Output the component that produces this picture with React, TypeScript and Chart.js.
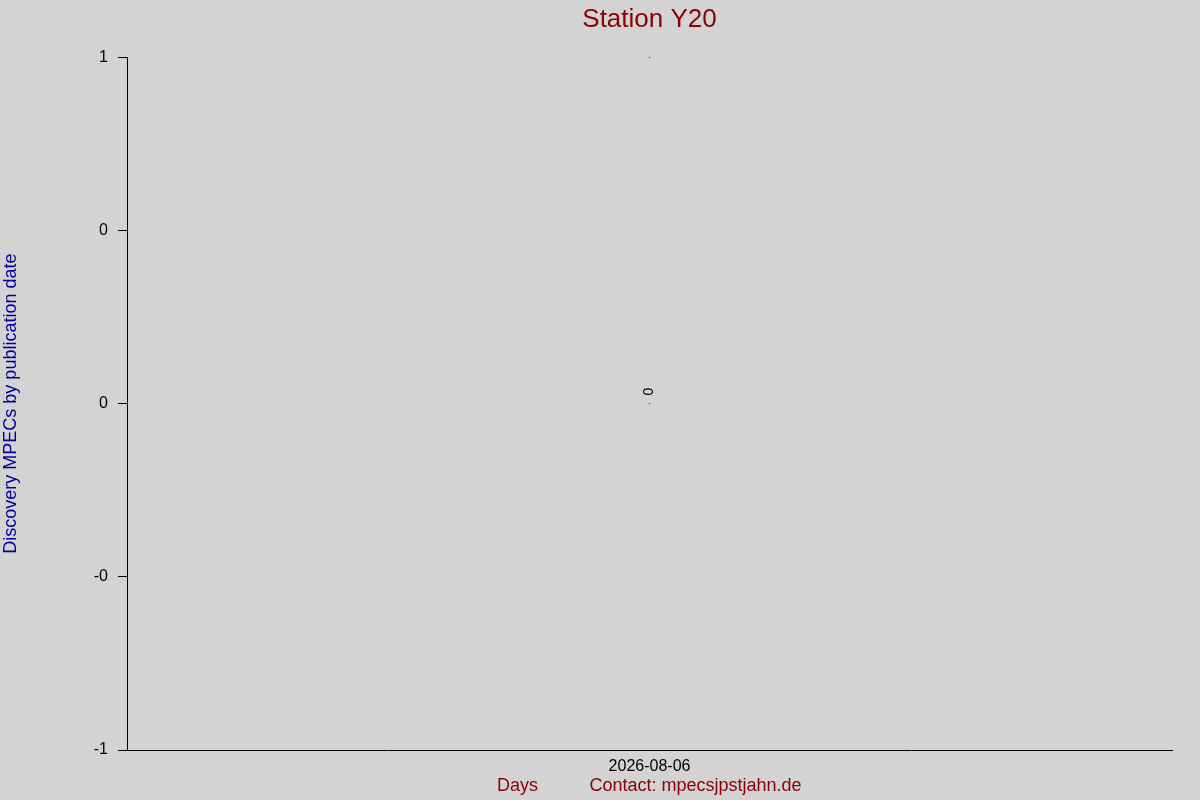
import { useEffect, useRef } from "react";
import { Chart, registerables } from "chart.js";

Chart.register(...registerables);

// data
const days = ["2026-08-06"];
const mpecCounts = [0];
const topMarks = [1];
const yTickValues = [-1, -0.5, 0, 0.5, 1];
const yTickLabels = ["-1", "-0", "0", "0", "1"];

const FONT = "'Liberation Sans', Arial, sans-serif";
const DARK_RED = "#8b0000";

const pagePlugin = {
  id: "pagePlugin",
  beforeDraw(chart: any) {
    const { ctx, width, height } = chart;
    ctx.save();
    ctx.fillStyle = "#d3d3d3";
    ctx.fillRect(0, 0, width, height);
    ctx.restore();
  },
  afterDraw(chart: any) {
    const { ctx, chartArea } = chart;
    const meta = chart.getDatasetMeta(0);
    ctx.save();
    // rotated value labels above the points
    ctx.font = `14px ${FONT}`;
    ctx.fillStyle = "#000";
    ctx.textAlign = "center";
    ctx.textBaseline = "middle";
    meta.data.forEach((pt: any, i: number) => {
      ctx.save();
      ctx.translate(pt.x, pt.y - 12);
      ctx.rotate(-Math.PI / 2);
      ctx.fillText(String(mpecCounts[i]), 0, 0);
      ctx.restore();
    });
    // footer texts
    const mid = (chartArea.left + chartArea.right) / 2;
    ctx.font = `18px ${FONT}`;
    ctx.fillStyle = DARK_RED;
    ctx.textAlign = "center";
    ctx.fillText("Days", mid - 132, 786);
    ctx.textAlign = "left";
    ctx.fillText("Contact: mpecsjpstjahn.de", mid - 60, 786);
    ctx.restore();
  },
};

export default function App() {
  const chartRef = useRef<HTMLCanvasElement>(null);
  const chartInstance = useRef<Chart | null>(null);

  useEffect(() => {
    document.body.style.margin = "0";
    if (chartRef.current) {
      const ctx = chartRef.current.getContext("2d");
      if (ctx) {
        if (chartInstance.current) {
          chartInstance.current.destroy();
        }

        chartInstance.current = new Chart(ctx, {
          type: "line",
          data: {
            labels: days,
            datasets: [
              {
                label: "Discovery MPECs",
                data: mpecCounts,
                showLine: false,
                pointRadius: 0.7,
                pointBackgroundColor: "#cc0000",
                pointBorderWidth: 0,
              },
              {
                label: "top",
                data: topMarks,
                showLine: false,
                pointRadius: 0.7,
                pointBackgroundColor: "#000",
                pointBorderWidth: 0,
              },
            ],
          },
          options: {
            responsive: true,
            maintainAspectRatio: false,
            animation: false,
            layout: { padding: { left: 0, right: 28, top: 0, bottom: 0 } },
            plugins: {
              legend: { display: false },
              tooltip: { enabled: false },
              title: {
                display: true,
                text: "Station Y20",
                color: DARK_RED,
                fullSize: false,
                font: { family: FONT, size: 26, weight: "normal" },
                padding: { top: 4, bottom: 22 },
              },
            },
            scales: {
              x: {
                offset: true,
                grid: { display: false, drawTicks: false },
                border: { display: true, color: "#000", width: 1 },
                ticks: {
                  color: "#000",
                  padding: 7,
                  maxRotation: 0,
                  font: { family: FONT, size: 16 },
                },
                afterFit(scale: any) {
                  scale.height = 50;
                },
              },
              y: {
                min: -1,
                max: 1,
                grid: {
                  drawOnChartArea: false,
                  drawTicks: true,
                  tickLength: 9,
                  tickColor: "#000",
                },
                border: { display: true, color: "#000", width: 1 },
                ticks: {
                  stepSize: 0.5,
                  color: "#000",
                  padding: 10,
                  font: { family: FONT, size: 16 },
                  callback: (value: any) => {
                    const i = yTickValues.indexOf(Number(value));
                    return i >= 0 ? yTickLabels[i] : "";
                  },
                },
                title: {
                  display: true,
                  text: "Discovery MPECs by publication date",
                  color: "#000099",
                  font: { family: FONT, size: 18 },
                  padding: { top: 0, bottom: 0 },
                },
                afterFit(scale: any) {
                  scale.width = 127;
                },
              },
            },
          },
          plugins: [pagePlugin],
        });
      }
    }

    return () => {
      if (chartInstance.current) {
        chartInstance.current.destroy();
      }
    };
  }, []);

  return (
    <div style={{ position: "fixed", left: 0, top: 0, width: 1200, height: 800, background: "#d3d3d3" }}>
      <canvas ref={chartRef} />
    </div>
  );
}
